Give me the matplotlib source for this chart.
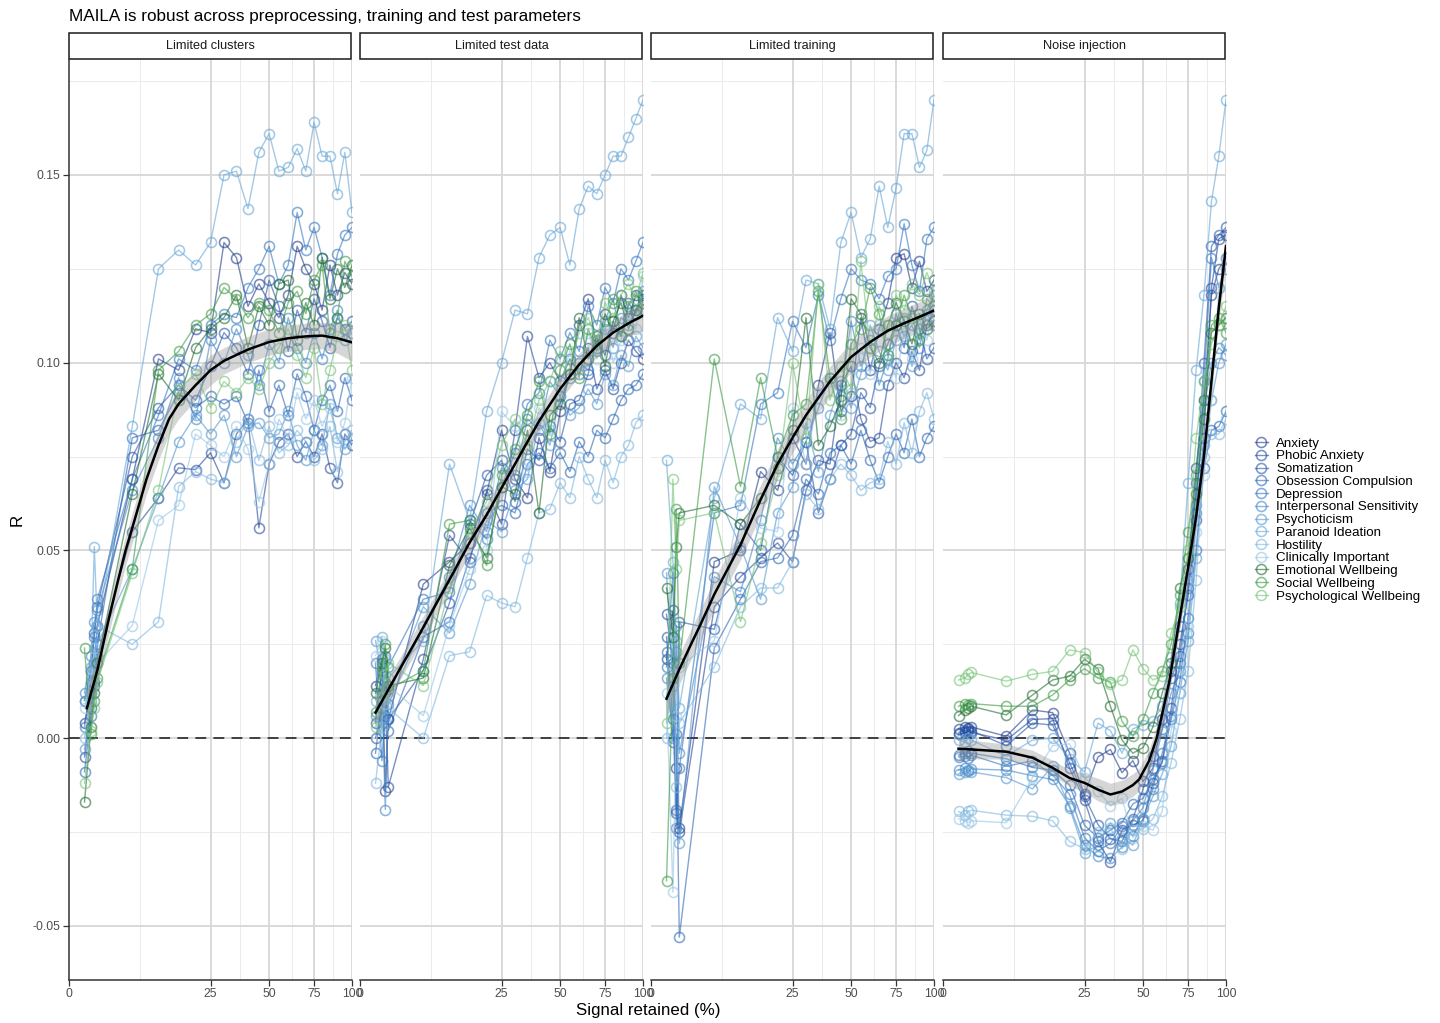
import numpy as np
import matplotlib
matplotlib.use("Agg")
import matplotlib.pyplot as plt
from matplotlib.lines import Line2D
from matplotlib.patches import Rectangle
from matplotlib.ticker import FixedLocator, FixedFormatter

plt.rcParams['font.family'] = ['Liberation Sans', 'DejaVu Sans']

# ---------------- data ----------------
panel_titles = ["Limited clusters", "Limited test data", "Limited training", "Noise injection"]
series_names = ["Anxiety", "Phobic Anxiety", "Somatization", "Obsession Compulsion", "Depression",
                "Interpersonal Sensitivity", "Psychoticism", "Paranoid Ideation", "Hostility",
                "Clinically Important", "Emotional Wellbeing", "Social Wellbeing", "Psychological Wellbeing"]
series_colors = ["#1f3a8a", "#23479b", "#2456a8", "#2a66b4", "#3476be", "#4186c6", "#5396ce",
                 "#67a6d6", "#7db6de", "#97c6e6", "#1e6b30", "#3b9a45", "#74c476"]

x_signal = [0.3, 0.6, 0.8, 1.0, 5, 10, 15, 20, 25, 30, 35, 40, 45, 50, 55, 60, 65, 70, 75, 80, 85, 90, 95, 100]

limited_clusters_R = [
    [0.004, 0.012, 0.020, 0.030, 0.069, 0.101, 0.098, 0.109, 0.108, 0.132, 0.128, 0.115, 0.121, 0.116, 0.112, 0.118, 0.131, 0.125, 0.121, 0.114, 0.126, 0.118, 0.124, 0.121],
    [-0.005, 0.008, 0.015, 0.022, 0.055, 0.064, 0.072, 0.0715, 0.076, 0.068, 0.081, 0.085, 0.056, 0.073, 0.079, 0.081, 0.075, 0.079, 0.075, 0.081, 0.072, 0.068, 0.081, 0.078],
    [0.010, 0.018, 0.028, 0.035, 0.075, 0.088, 0.094, 0.090, 0.099, 0.108, 0.104, 0.097, 0.110, 0.122, 0.115, 0.103, 0.114, 0.108, 0.117, 0.111, 0.104, 0.112, 0.109, 0.111],
    [-0.009, 0.006, 0.014, 0.025, 0.080, 0.082, 0.092, 0.088, 0.091, 0.089, 0.091, 0.084, 0.098, 0.087, 0.094, 0.086, 0.097, 0.091, 0.082, 0.090, 0.094, 0.087, 0.096, 0.090],
    [0.003, 0.015, 0.027, 0.037, 0.069, 0.086, 0.101, 0.098, 0.110, 0.113, 0.112, 0.120, 0.125, 0.131, 0.121, 0.126, 0.140, 0.130, 0.136, 0.128, 0.118, 0.129, 0.134, 0.136],
    [0.012, 0.022, 0.031, 0.034, 0.066, 0.080, 0.096, 0.085, 0.106, 0.100, 0.109, 0.102, 0.094, 0.105, 0.100, 0.112, 0.104, 0.100, 0.108, 0.101, 0.109, 0.114, 0.106, 0.108],
    [-0.003, 0.010, 0.018, 0.025, 0.045, 0.064, 0.079, 0.086, 0.081, 0.086, 0.075, 0.083, 0.084, 0.080, 0.081, 0.087, 0.078, 0.074, 0.082, 0.078, 0.089, 0.080, 0.077, 0.080],
    [0.010, 0.019, 0.051, 0.030, 0.083, 0.125, 0.130, 0.126, 0.132, 0.150, 0.151, 0.141, 0.156, 0.161, 0.151, 0.152, 0.157, 0.151, 0.164, 0.155, 0.155, 0.145, 0.156, 0.140],
    [0.000, 0.012, 0.020, 0.030, 0.025, 0.031, 0.067, 0.071, 0.069, 0.068, 0.079, 0.085, 0.074, 0.083, 0.076, 0.078, 0.082, 0.079, 0.074, 0.077, 0.083, 0.071, 0.079, 0.082],
    [0.008, 0.016, 0.024, 0.020, 0.030, 0.058, 0.062, 0.081, 0.078, 0.075, 0.083, 0.077, 0.063, 0.073, 0.085, 0.080, 0.092, 0.085, 0.090, 0.083, 0.088, 0.079, 0.084, 0.096],
    [-0.017, 0.003, 0.012, 0.020, 0.065, 0.097, 0.090, 0.104, 0.109, 0.112, 0.118, 0.104, 0.115, 0.110, 0.121, 0.122, 0.106, 0.116, 0.110, 0.128, 0.117, 0.125, 0.120, 0.126],
    [0.024, 0.001, 0.010, 0.016, 0.045, 0.098, 0.103, 0.110, 0.113, 0.120, 0.117, 0.112, 0.116, 0.114, 0.108, 0.116, 0.119, 0.113, 0.122, 0.126, 0.108, 0.112, 0.127, 0.123],
    [-0.012, 0.002, 0.008, 0.015, 0.044, 0.066, 0.093, 0.097, 0.088, 0.095, 0.092, 0.096, 0.093, 0.100, 0.104, 0.109, 0.102, 0.096, 0.104, 0.089, 0.098, 0.107, 0.110, 0.098],
]

limited_test_R = [
    [0.014, 0.021, -0.014, 0.005, 0.041, 0.047, 0.052, 0.065, 0.082, 0.069, 0.064, 0.080, 0.071, 0.087, 0.097, 0.110, 0.117, 0.104, 0.113, 0.108, 0.118, 0.112, 0.118, 0.116],
    [0.004, 0.018, 0.012, -0.013, 0.021, 0.054, 0.047, 0.066, 0.057, 0.082, 0.107, 0.096, 0.100, 0.095, 0.101, 0.097, 0.104, 0.093, 0.098, 0.093, 0.100, 0.106, 0.103, 0.101],
    [0.000, 0.008, 0.015, 0.005, 0.018, 0.036, 0.057, 0.070, 0.074, 0.063, 0.077, 0.074, 0.083, 0.079, 0.089, 0.090, 0.097, 0.106, 0.102, 0.111, 0.107, 0.116, 0.113, 0.118],
    [-0.004, 0.010, 0.022, 0.002, 0.027, 0.031, 0.048, 0.060, 0.062, 0.060, 0.073, 0.076, 0.072, 0.076, 0.071, 0.079, 0.075, 0.082, 0.080, 0.085, 0.090, 0.093, 0.094, 0.097],
    [0.020, -0.006, 0.006, 0.019, 0.037, 0.039, 0.058, 0.053, 0.067, 0.076, 0.089, 0.092, 0.106, 0.101, 0.108, 0.103, 0.115, 0.110, 0.120, 0.116, 0.125, 0.122, 0.127, 0.132],
    [0.006, 0.012, -0.019, 0.009, 0.030, 0.043, 0.062, 0.055, 0.072, 0.070, 0.085, 0.082, 0.095, 0.091, 0.096, 0.100, 0.098, 0.105, 0.109, 0.104, 0.112, 0.110, 0.114, 0.119],
    [0.026, 0.017, 0.004, 0.011, 0.035, 0.028, 0.041, 0.058, 0.055, 0.066, 0.069, 0.084, 0.078, 0.091, 0.086, 0.088, 0.093, 0.089, 0.097, 0.094, 0.102, 0.099, 0.107, 0.104],
    [0.010, 0.027, 0.021, 0.016, 0.026, 0.073, 0.058, 0.087, 0.100, 0.114, 0.113, 0.128, 0.134, 0.136, 0.126, 0.141, 0.147, 0.145, 0.150, 0.155, 0.155, 0.160, 0.165, 0.170],
    [-0.012, 0.003, 0.013, 0.008, 0.000, 0.022, 0.023, 0.038, 0.036, 0.035, 0.048, 0.060, 0.061, 0.068, 0.064, 0.075, 0.069, 0.064, 0.074, 0.068, 0.075, 0.078, 0.084, 0.086],
    [0.022, 0.026, 0.009, 0.014, 0.006, 0.030, 0.045, 0.050, 0.087, 0.083, 0.071, 0.088, 0.082, 0.094, 0.103, 0.097, 0.108, 0.101, 0.110, 0.100, 0.106, 0.113, 0.109, 0.123],
    [0.012, 0.020, 0.024, 0.014, 0.016, 0.046, 0.056, 0.048, 0.067, 0.065, 0.082, 0.060, 0.086, 0.089, 0.097, 0.112, 0.101, 0.107, 0.099, 0.111, 0.116, 0.109, 0.114, 0.117],
    [0.007, 0.019, 0.025, 0.013, 0.018, 0.057, 0.058, 0.046, 0.070, 0.077, 0.086, 0.095, 0.081, 0.098, 0.105, 0.096, 0.109, 0.103, 0.111, 0.117, 0.107, 0.115, 0.119, 0.114],
    [0.003, 0.011, 0.017, 0.020, 0.014, 0.040, 0.055, 0.063, 0.078, 0.085, 0.078, 0.090, 0.095, 0.103, 0.099, 0.108, 0.112, 0.106, 0.116, 0.112, 0.118, 0.121, 0.117, 0.124],
]

limited_training_R = [
    [0.021, 0.034, -0.008, -0.024, 0.047, 0.050, 0.071, 0.066, 0.080, 0.073, 0.094, 0.108, 0.087, 0.091, 0.112, 0.098, 0.109, 0.116, 0.128, 0.129, 0.120, 0.127, 0.119, 0.122],
    [0.033, 0.020, -0.020, -0.025, 0.035, 0.043, 0.048, 0.052, 0.047, 0.066, 0.074, 0.073, 0.094, 0.099, 0.085, 0.079, 0.080, 0.094, 0.100, 0.096, 0.103, 0.098, 0.110, 0.114],
    [0.027, 0.005, -0.019, 0.031, 0.029, 0.057, 0.050, 0.075, 0.070, 0.079, 0.060, 0.069, 0.078, 0.081, 0.092, 0.088, 0.099, 0.105, 0.110, 0.104, 0.115, 0.109, 0.101, 0.104],
    [0.023, -0.001, 0.001, -0.053, 0.024, 0.037, 0.047, 0.048, 0.054, 0.069, 0.065, 0.076, 0.078, 0.073, 0.082, 0.074, 0.068, 0.075, 0.081, 0.076, 0.085, 0.075, 0.080, 0.083],
    [0.019, 0.044, -0.024, -0.008, 0.060, 0.062, 0.089, 0.092, 0.111, 0.104, 0.118, 0.106, 0.117, 0.125, 0.122, 0.121, 0.117, 0.123, 0.125, 0.137, 0.126, 0.119, 0.133, 0.136],
    [0.016, 0.000, 0.030, -0.004, 0.043, 0.039, 0.058, 0.080, 0.073, 0.079, 0.088, 0.096, 0.091, 0.111, 0.099, 0.106, 0.094, 0.101, 0.113, 0.107, 0.110, 0.104, 0.114, 0.118],
    [0.044, 0.014, 0.023, -0.028, 0.067, 0.051, 0.037, 0.060, 0.067, 0.084, 0.071, 0.086, 0.095, 0.088, 0.097, 0.110, 0.103, 0.098, 0.106, 0.112, 0.099, 0.108, 0.113, 0.110],
    [0.074, 0.047, 0.026, 0.008, 0.064, 0.089, 0.085, 0.112, 0.103, 0.122, 0.121, 0.109, 0.132, 0.140, 0.128, 0.133, 0.147, 0.136, 0.1465, 0.161, 0.161, 0.152, 0.1565, 0.170],
    [0.000, 0.028, -0.013, 0.004, 0.019, 0.035, 0.040, 0.040, 0.047, 0.065, 0.061, 0.069, 0.073, 0.070, 0.066, 0.068, 0.069, 0.079, 0.073, 0.084, 0.076, 0.087, 0.092, 0.085],
    [0.012, -0.041, 0.006, 0.019, 0.026, 0.064, 0.056, 0.055, 0.088, 0.073, 0.092, 0.095, 0.086, 0.092, 0.104, 0.097, 0.110, 0.102, 0.096, 0.108, 0.101, 0.112, 0.106, 0.115],
    [0.040, 0.027, 0.051, 0.060, 0.062, 0.057, 0.064, 0.072, 0.082, 0.112, 0.078, 0.083, 0.090, 0.117, 0.113, 0.104, 0.100, 0.110, 0.116, 0.111, 0.105, 0.113, 0.109, 0.111],
    [-0.038, 0.016, 0.061, 0.020, 0.101, 0.067, 0.096, 0.075, 0.086, 0.089, 0.119, 0.096, 0.085, 0.105, 0.109, 0.120, 0.113, 0.102, 0.110, 0.118, 0.112, 0.106, 0.117, 0.115],
    [0.004, 0.069, 0.045, 0.058, 0.060, 0.031, 0.052, 0.070, 0.100, 0.080, 0.121, 0.090, 0.099, 0.093, 0.127, 0.104, 0.115, 0.108, 0.118, 0.114, 0.121, 0.118, 0.124, 0.119],
]

noise_injection_R = [
    [0.0025, 0.003, 0.0028, 0.003, 0.0005, 0.0075, 0.0068, -0.004, -0.015, -0.005, -0.003, -0.0092, -0.006, -0.0115, -0.008, 0.005, 0.018, 0.030, 0.045, 0.072, 0.090, 0.118, 0.125, 0.128],
    [0.001, 0.0015, 0.002, 0.0015, -0.0005, 0.005, 0.0052, -0.008, -0.0165, -0.0275, -0.033, -0.0245, -0.0232, -0.022, -0.012, -0.006, 0.008, 0.025, 0.038, 0.058, 0.080, 0.120, 0.133, 0.134],
    [0.0015, 0.002, 0.0025, 0.002, -0.002, 0.004, 0.0035, -0.0065, -0.0155, -0.023, -0.0268, -0.0275, -0.0215, -0.0135, -0.0048, 0.0025, 0.016, 0.022, 0.040, 0.068, 0.100, 0.131, 0.134, 0.136],
    [-0.0045, -0.004, -0.0035, -0.004, -0.0055, -0.0078, -0.0085, -0.0125, -0.0232, -0.0265, -0.0245, -0.0225, -0.0175, -0.016, -0.011, -0.0065, 0.005, 0.015, 0.032, 0.050, 0.072, 0.082, 0.083, 0.087],
    [-0.005, -0.0048, -0.0052, -0.0045, -0.0075, -0.006, -0.0098, -0.015, -0.0265, -0.030, -0.028, -0.0235, -0.026, -0.0215, -0.0135, -0.004, 0.006, 0.020, 0.028, 0.060, 0.095, 0.128, 0.120, 0.125],
    [-0.0085, -0.008, -0.0088, -0.0082, -0.0085, -0.010, -0.011, -0.018, -0.0285, -0.0315, -0.032, -0.029, -0.022, -0.0185, -0.0085, 0.002, 0.012, 0.018, 0.042, 0.062, 0.088, 0.100, 0.104, 0.102],
    [-0.0095, -0.009, -0.0085, -0.009, -0.0105, -0.0135, -0.0075, -0.0185, -0.0305, -0.0285, -0.0225, -0.0265, -0.0285, -0.0215, -0.0155, -0.0095, -0.002, 0.012, 0.026, 0.048, 0.078, 0.090, 0.100, 0.105],
    [-0.0005, -0.001, 0.000, -0.0005, -0.0048, -0.0005, 0.000, -0.0055, -0.009, 0.004, 0.002, -0.004, 0.0025, 0.0035, 0.0045, 0.0085, 0.0215, 0.036, 0.068, 0.098, 0.118, 0.143, 0.155, 0.170],
    [-0.0195, -0.0205, -0.0195, -0.0192, -0.0205, -0.0208, -0.022, -0.0275, -0.0295, -0.025, -0.024, -0.0295, -0.0245, -0.0242, -0.0215, -0.0155, -0.0065, 0.005, 0.018, 0.042, 0.075, 0.081, 0.081, 0.085],
    [-0.0215, -0.022, -0.0225, -0.022, -0.0225, -0.0105, -0.002, -0.0015, -0.0105, -0.014, -0.018, -0.016, -0.0265, -0.0235, -0.0245, -0.0195, 0.002, 0.012, 0.030, 0.055, 0.070, 0.090, 0.120, 0.128],
    [0.006, 0.0075, 0.008, 0.0085, 0.0062, 0.0115, 0.0155, 0.0165, 0.021, 0.0185, 0.0085, -0.0005, -0.004, -0.0025, 0.003, 0.012, 0.020, 0.040, 0.048, 0.065, 0.085, 0.108, 0.110, 0.112],
    [0.0085, 0.009, 0.0088, 0.0092, 0.0085, 0.0085, 0.0115, 0.0155, 0.0185, 0.016, 0.015, 0.0045, 0.0005, 0.005, 0.012, 0.018, 0.025, 0.038, 0.055, 0.070, 0.090, 0.110, 0.112, 0.108],
    [0.0155, 0.016, 0.017, 0.0175, 0.0152, 0.017, 0.0178, 0.0235, 0.0228, 0.0175, 0.0145, 0.0155, 0.0235, 0.0185, 0.0155, 0.0165, 0.028, 0.035, 0.050, 0.080, 0.095, 0.105, 0.110, 0.115],
]

# smooth (loess) curves, with half-width of the confidence band
smooth_clusters_x = [0.4, 1, 2, 3, 4, 5, 7.5, 10, 12.5, 15, 20, 25, 30, 40, 50, 60, 70, 80, 90, 100]
smooth_clusters_y = [0.008, 0.018, 0.032, 0.042, 0.050, 0.056, 0.069, 0.078, 0.085, 0.089, 0.094, 0.098, 0.1005, 0.1035, 0.1055, 0.1065, 0.107, 0.1072, 0.1065, 0.1054]
smooth_clusters_se = [0.005, 0.004, 0.004, 0.004, 0.004, 0.004, 0.004, 0.004, 0.004, 0.004, 0.004, 0.004, 0.0035, 0.0035, 0.0035, 0.0035, 0.0035, 0.0035, 0.004, 0.005]

smooth_test_x = [0.3, 1, 2, 3, 5, 10, 15, 20, 25, 30, 40, 50, 60, 70, 80, 90, 100]
smooth_test_y = [0.0068, 0.0129, 0.0185, 0.0227, 0.0295, 0.0422, 0.0521, 0.0594, 0.0666, 0.0730, 0.0844, 0.0930, 0.0995, 0.1045, 0.1080, 0.1105, 0.1125]
smooth_test_se = [0.004, 0.0035, 0.003, 0.003, 0.003, 0.003, 0.003, 0.003, 0.003, 0.003, 0.003, 0.003, 0.003, 0.003, 0.003, 0.0035, 0.004]

smooth_training_x = [0.3, 1, 2, 3, 5, 10, 15, 20, 25, 30, 40, 50, 60, 70, 80, 90, 100]
smooth_training_y = [0.0105, 0.0183, 0.0250, 0.0300, 0.0383, 0.0515, 0.0635, 0.0730, 0.0800, 0.0860, 0.0950, 0.1015, 0.1055, 0.1085, 0.1105, 0.1122, 0.1139]
smooth_training_se = [0.005, 0.004, 0.004, 0.004, 0.004, 0.004, 0.004, 0.004, 0.004, 0.004, 0.004, 0.004, 0.004, 0.004, 0.004, 0.004, 0.005]

smooth_noise_x = [0.3, 1, 5, 10, 15, 20, 25, 30, 35, 40, 45, 48, 53, 57, 60, 64, 69, 75, 80, 85, 90, 95, 100]
smooth_noise_y = [-0.0028, -0.0030, -0.0036, -0.0052, -0.0079, -0.0106, -0.0119, -0.0137, -0.0150, -0.0142, -0.0125, -0.0110, -0.0061, 0.0000, 0.0065, 0.0152, 0.0294, 0.0454, 0.0590, 0.0750, 0.0952, 0.1147, 0.1310]
smooth_noise_se = [0.003, 0.0025, 0.002, 0.002, 0.002, 0.0022, 0.0025, 0.003, 0.003, 0.003, 0.003, 0.003, 0.003, 0.003, 0.003, 0.003, 0.003, 0.003, 0.003, 0.003, 0.0035, 0.004, 0.005]

panel_data = [limited_clusters_R, limited_test_R, limited_training_R, noise_injection_R]
panel_smooth = [
    (smooth_clusters_x, smooth_clusters_y, smooth_clusters_se),
    (smooth_test_x, smooth_test_y, smooth_test_se),
    (smooth_training_x, smooth_training_y, smooth_training_se),
    (smooth_noise_x, smooth_noise_y, smooth_noise_se),
]

x_ticks = [0, 25, 50, 75, 100]
y_ticks = [-0.05, 0.00, 0.05, 0.10, 0.15]
y_tick_labels = ["-0.05", "0.00", "0.05", "0.10", "0.15"]

# ---------------- layout ----------------
W, H = 1440, 1023
fig = plt.figure(figsize=(W / 100, H / 100), dpi=100)
panel_left = [69, 360, 651, 943]
panel_width = 283
top_px, bot_px = 60, 980

def fx(px):
    return px / W

def fy(py):
    return 1 - py / H

fwd = lambda v: np.sqrt(np.clip(v, 0, None))
inv = lambda v: np.square(v)

major_sq = np.sqrt(x_ticks)
minor_x = list(((major_sq[:-1] + major_sq[1:]) / 2) ** 2)
y_minor = [-0.025, 0.025, 0.075, 0.125, 0.175]

for i, (title, data, sm) in enumerate(zip(panel_titles, panel_data, panel_smooth)):
    ax = fig.add_axes([fx(panel_left[i]), fy(bot_px), fx(panel_width), (bot_px - top_px) / H])
    ax.set_xscale('function', functions=(fwd, inv))
    ax.set_xlim(0, 100)
    ax.set_ylim(-0.0644, 0.1806)
    ax.set_facecolor('white')

    # grid
    for gx in minor_x:
        ax.axvline(gx, color='#ebebeb', lw=0.7, zorder=0)
    for gy in y_minor:
        ax.axhline(gy, color='#ebebeb', lw=0.7, zorder=0)
    for gx in x_ticks[1:-1]:
        ax.axvline(gx, color='#d9d9d9', lw=1.4, zorder=0)
    for gy in y_ticks:
        ax.axhline(gy, color='#d9d9d9', lw=1.4, zorder=0)
    ax.axvline(100, color='#d9d9d9', lw=1.4, zorder=0)

    ax.axhline(0, color='#333333', lw=1.3, ls=(0, (6, 4)), zorder=1)

    for k, vals in enumerate(data):
        ax.plot(x_signal, vals, color=series_colors[k], alpha=0.6, lw=1.0,
                marker='o', ms=7.2, mfc='none', mew=1.15, zorder=2 + k * 0.01)

    sx, sy, se = [np.array(a) for a in sm]
    ax.fill_between(sx, sy - se, sy + se, color='#999999', alpha=0.4, lw=0, zorder=3)
    ax.plot(sx, sy, color='black', lw=1.8, zorder=4)

    for side in ['top', 'right']:
        ax.spines[side].set_visible(False)
    ax.spines['bottom'].set_linewidth(1.1)
    ax.spines['bottom'].set_color('#333333')
    ax.xaxis.set_major_locator(FixedLocator(x_ticks))
    ax.xaxis.set_major_formatter(FixedFormatter([str(t) for t in x_ticks]))
    ax.xaxis.set_minor_locator(FixedLocator([]))
    ax.tick_params(axis='x', length=4, width=0.9, color='#333333', labelsize=8.8,
                   labelcolor='#4d4d4d', pad=2)
    if i == 0:
        ax.spines['left'].set_linewidth(1.1)
        ax.spines['left'].set_color('#333333')
        ax.yaxis.set_major_locator(FixedLocator(y_ticks))
        ax.yaxis.set_major_formatter(FixedFormatter(y_tick_labels))
        ax.tick_params(axis='y', length=4, width=0.9, color='#333333', labelsize=8.8,
                       labelcolor='#4d4d4d', pad=2)
    else:
        ax.spines['left'].set_visible(False)
        ax.set_yticks([])
    ax.yaxis.set_minor_locator(FixedLocator([]))

    # strip
    rect = Rectangle((fx(panel_left[i]), fy(59)), fx(panel_width - 1), 26 / H,
                     transform=fig.transFigure, facecolor='white', edgecolor='#1a1a1a',
                     lw=1.1, zorder=5)
    fig.patches.append(rect)
    fig.text(fx(panel_left[i] + panel_width / 2), fy(46), title, ha='center', va='center',
             fontsize=9.2, color='#1a1a1a', zorder=6)

fig.text(fx(69), fy(16), "MAILA is robust across preprocessing, training and test parameters",
         ha='left', va='center', fontsize=12.3, color='black')
fig.text(fx(648), fy(1011), "Signal retained (%)", ha='center', va='center', fontsize=12.2, color='black')
fig.text(fx(17), fy(520), "R", ha='center', va='center', rotation=90, fontsize=12.2, color='black')

handles = [Line2D([0], [0], color=c, alpha=0.6, lw=1.0, marker='o', ms=7.2, mfc='none', mew=1.15)
           for c in series_colors]
leg = fig.legend(handles, series_names, loc='center left', bbox_to_anchor=(fx(1248), fy(520)),
                 frameon=False, fontsize=9.6, handlelength=1.0, handletextpad=0.6,
                 labelspacing=0.03, borderpad=0)

fig.savefig("out.png", dpi=100, facecolor='white')
